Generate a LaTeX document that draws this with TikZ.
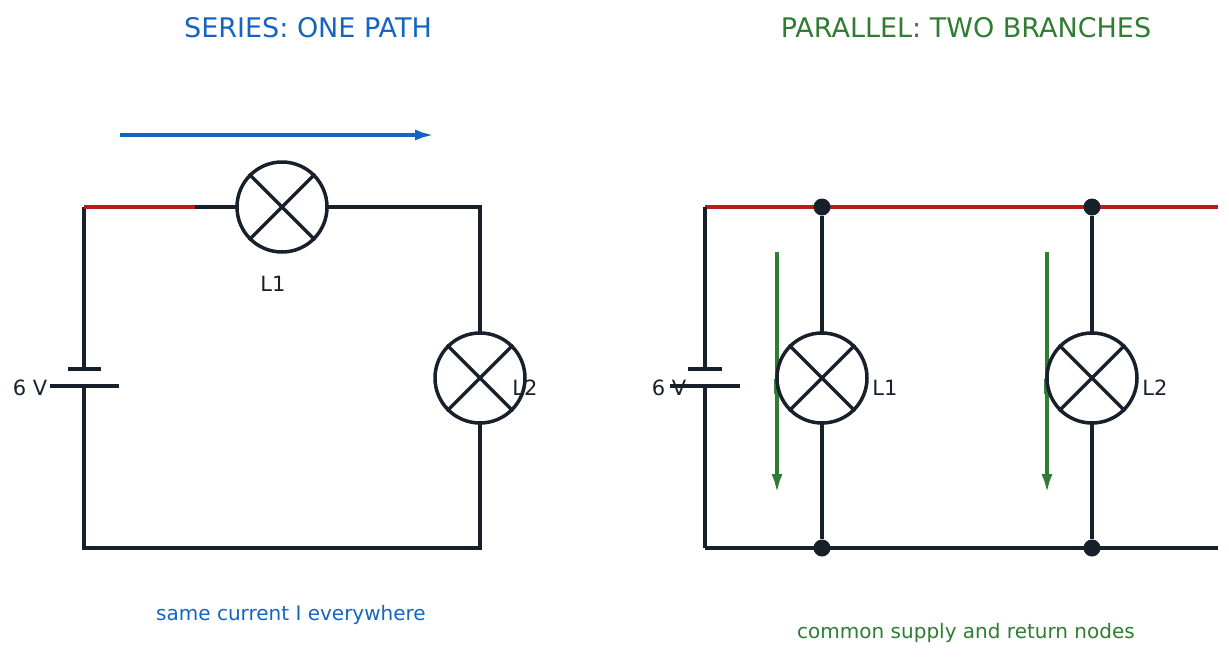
\documentclass[tikz,border=0pt]{standalone}
\usepackage{fontspec}
\setmainfont{DejaVu Sans}
\usetikzlibrary{arrows.meta}
\definecolor{dk}{HTML}{18202B}
\definecolor{rd}{HTML}{B71C1C}
\definecolor{bl}{HTML}{1565C0}
\definecolor{gr}{HTML}{2E7D32}
\begin{document}
\begin{tikzpicture}[x=1pt,y=-1pt,
 w/.style={draw=dk,line width=3.5pt},
 lamp/.style={circle,draw=dk,fill=white,line width=3.5pt,minimum size=90pt,inner sep=0pt},
 dot/.style={circle,fill=dk,minimum size=17pt,inner sep=0pt},
 lbl/.style={text=dk,font=\fontsize{21}{21}\selectfont},
 arr/.style={line width=4pt,-{Latex[length=20pt,width=11pt]}}]
\useasboundingbox (0,0) rectangle (1229,657);
\node[text=bl,font=\fontsize{27}{27}\selectfont] (t1) at (308,28) {SERIES: ONE PATH};
\node[text=gr,font=\fontsize{27}{27}\selectfont] (t2) at (966,28) {PARALLEL: TWO BRANCHES};
% series
\coordinate (a) at (84,207); \coordinate (ar) at (195,207);
\coordinate (b) at (480,207); \coordinate (c) at (480,548); \coordinate (d) at (84,548);
\coordinate (bt) at (84,369); \coordinate (bb) at (84,386);
\draw[w] (ar) -- (b) -- (c) -- (d) -- (bb);
\draw[w] (bt) -- (a);
\draw[draw=rd,line width=3.5pt] (a) -- (ar);
\draw[w] (68,369) -- (101,369); \draw[w] (50,386) -- (119,386);
\node[lamp] (l1) at (282,207) {};
\node[lamp] (l2) at (480,378) {};
\foreach \n in {l1,l2}{\draw[w] (\n.45) -- (\n.225); \draw[w] (\n.135) -- (\n.-45);}
\node[lbl] (s6) at (30,388) {6 V};
\node[lbl] (sl1) at (273,284) {L1};
\node[lbl] (sl2) at (525,388) {L2};
\coordinate (ba) at (120,135); \coordinate (bz) at (435,135);
\draw[arr,bl] (ba) -- (bz);
\node[text=bl,font=\fontsize{20}{20}\selectfont] (s) at (291,615) {same current I everywhere};
% parallel
\coordinate (pa) at (705,207); \coordinate (pz) at (1218,207);
\coordinate (qa) at (705,548); \coordinate (qz) at (1218,548);
\draw[draw=rd,line width=3.5pt] (pa) -- (pz);
\draw[w] (qa) -- (qz);
\draw[w] (pa) -- (705,369); \draw[w] (705,386) -- (qa);
\node[dot] (d1) at (822,207) {}; \node[dot] (d2) at (1092,207) {};
\node[dot] (d3) at (822,548) {}; \node[dot] (d4) at (1092,548) {};
\draw[w] (d1) -- (d3); \draw[w] (d2) -- (d4);
\node[lbl] (p6) at (669,388) {6 V};
\draw[w] (688,369) -- (722,369); \draw[w] (670,386) -- (740,386);
\node[text=gr,font=\fontsize{21}{21}\selectfont] (i1) at (779,388) {I$_1$};
\node[text=gr,font=\fontsize{21}{21}\selectfont] (i2) at (1049,388) {I$_2$};
\coordinate (g1a) at (777,252); \coordinate (g1z) at (777,494);
\coordinate (g2a) at (1047,252); \coordinate (g2z) at (1047,494);
\draw[arr,gr] (g1a) -- (g1z); \draw[arr,gr] (g2a) -- (g2z);
\node[lamp] (m1) at (822,378) {};
\node[lamp] (m2) at (1092,378) {};
\foreach \n in {m1,m2}{\draw[w] (\n.45) -- (\n.225); \draw[w] (\n.135) -- (\n.-45);}
\node[lbl] (pl1) at (885,388) {L1};
\node[lbl] (pl2) at (1155,388) {L2};
\node[text=gr,font=\fontsize{20}{20}\selectfont] (p) at (966,633) {common supply and return nodes};
\end{tikzpicture}
\end{document}
